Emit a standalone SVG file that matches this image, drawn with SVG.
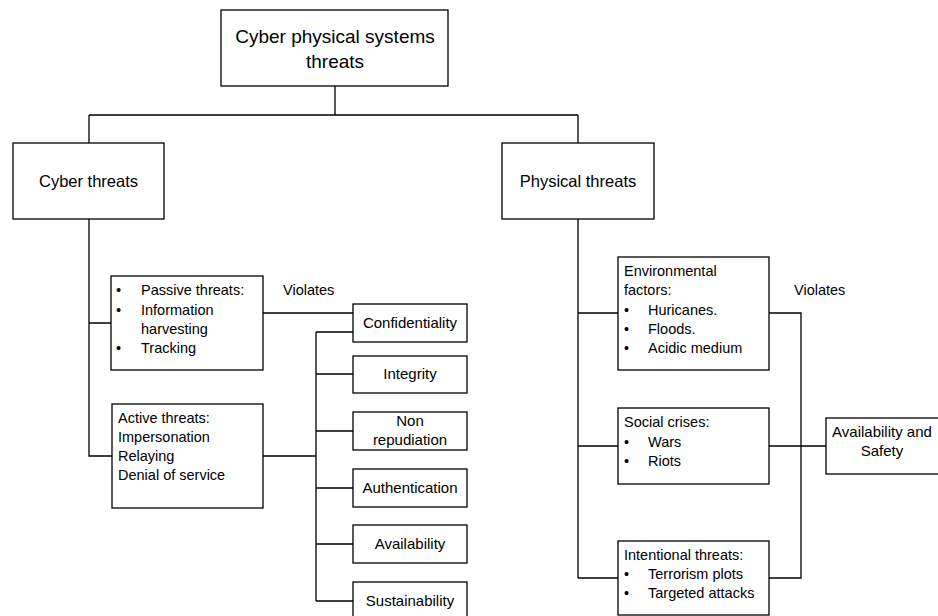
<svg xmlns="http://www.w3.org/2000/svg" width="938" height="616" viewBox="0 0 938 616">
<style>
rect{fill:#fff;stroke:#000;stroke-width:1.3}
.c path{fill:none;stroke:#000;stroke-width:1.3}
text{font-family:"Liberation Sans",Arial,sans-serif;font-size:14.5px;fill:#000}
.m{text-anchor:middle}
.s{font-size:15px}
.t{font-size:16.5px}
.h{font-size:19px}
</style>
<rect x="0" y="0" width="938" height="616" style="stroke:none"/>
<g class="c" id="connectors">
<path d="M335 86V115M89 115H578M89 115V143M578 115V143"/>
<path d="M89 219V456H112M89 323H111"/>
<path d="M263 313H353M263 456H316M316 332V601M316 332H353M316 374H353M316 431H353M316 488H353M316 544H353M316 601H353"/>
<path d="M578 219V578M578 313H618M578 446H618M578 578H618"/>
<path d="M769 313H801V578H769M769 446H826"/>
</g>
<g id="root"><rect x="221" y="10" width="227" height="76"/><text class="m h" x="335" y="43">Cyber physical systems</text><text class="m h" x="335" y="68">threats</text></g>
<g id="cyber"><rect x="13" y="143" width="151" height="76"/><text class="m t" x="88.5" y="187">Cyber threats</text></g>
<g id="physical"><rect x="502" y="143" width="152" height="76"/><text class="m t" x="578" y="187">Physical threats</text></g>
<g id="passive"><rect x="111" y="276" width="152" height="94"/>
<text x="116" y="295">•</text><text x="141" y="295">Passive threats:</text>
<text x="116" y="315">•</text><text x="141" y="315">Information</text>
<text x="141" y="334">harvesting</text>
<text x="116" y="353">•</text><text x="141" y="353">Tracking</text></g>
<g id="active"><rect x="112" y="404" width="151" height="104"/>
<text x="118" y="423">Active threats:</text><text x="118" y="442">Impersonation</text><text x="118" y="461">Relaying</text><text x="118" y="480">Denial of service</text></g>
<text x="283" y="295">Violates</text>
<g id="confidentiality"><rect x="353" y="304" width="114" height="38"/><text class="m s" x="410" y="328">Confidentiality</text></g>
<g id="integrity"><rect x="353" y="356" width="114" height="37"/><text class="m s" x="410" y="379">Integrity</text></g>
<g id="nonrep"><rect x="353" y="412" width="114" height="38"/><text class="m s" x="410" y="426">Non</text><text class="m s" x="410" y="445">repudiation</text></g>
<g id="authentication"><rect x="353" y="469" width="114" height="38"/><text class="m s" x="410" y="493">Authentication</text></g>
<g id="availability"><rect x="353" y="525" width="114" height="38"/><text class="m s" x="410" y="549">Availability</text></g>
<g id="sustainability"><rect x="353" y="582" width="114" height="40"/><text class="m s" x="410" y="606">Sustainability</text></g>
<g id="environmental"><rect x="618" y="257" width="151" height="113"/>
<text x="624" y="276">Environmental</text><text x="624" y="295">factors:</text>
<text x="624" y="315">•</text><text x="648" y="315">Huricanes.</text>
<text x="624" y="334">•</text><text x="648" y="334">Floods.</text>
<text x="624" y="353">•</text><text x="648" y="353">Acidic medium</text></g>
<text x="794" y="295">Violates</text>
<g id="social"><rect x="618" y="408" width="151" height="76"/>
<text x="624" y="427">Social crises:</text>
<text x="624" y="447">•</text><text x="648" y="447">Wars</text>
<text x="624" y="466">•</text><text x="648" y="466">Riots</text></g>
<g id="intentional"><rect x="618" y="541" width="151" height="74"/>
<text x="624" y="560">Intentional threats:</text>
<text x="624" y="579">•</text><text x="648" y="579">Terrorism plots</text>
<text x="624" y="598">•</text><text x="648" y="598">Targeted attacks</text></g>
<g id="availsafety"><rect x="826" y="418" width="120" height="56"/><text class="m s" x="882" y="437">Availability and</text><text class="m s" x="882" y="456">Safety</text></g>
</svg>
